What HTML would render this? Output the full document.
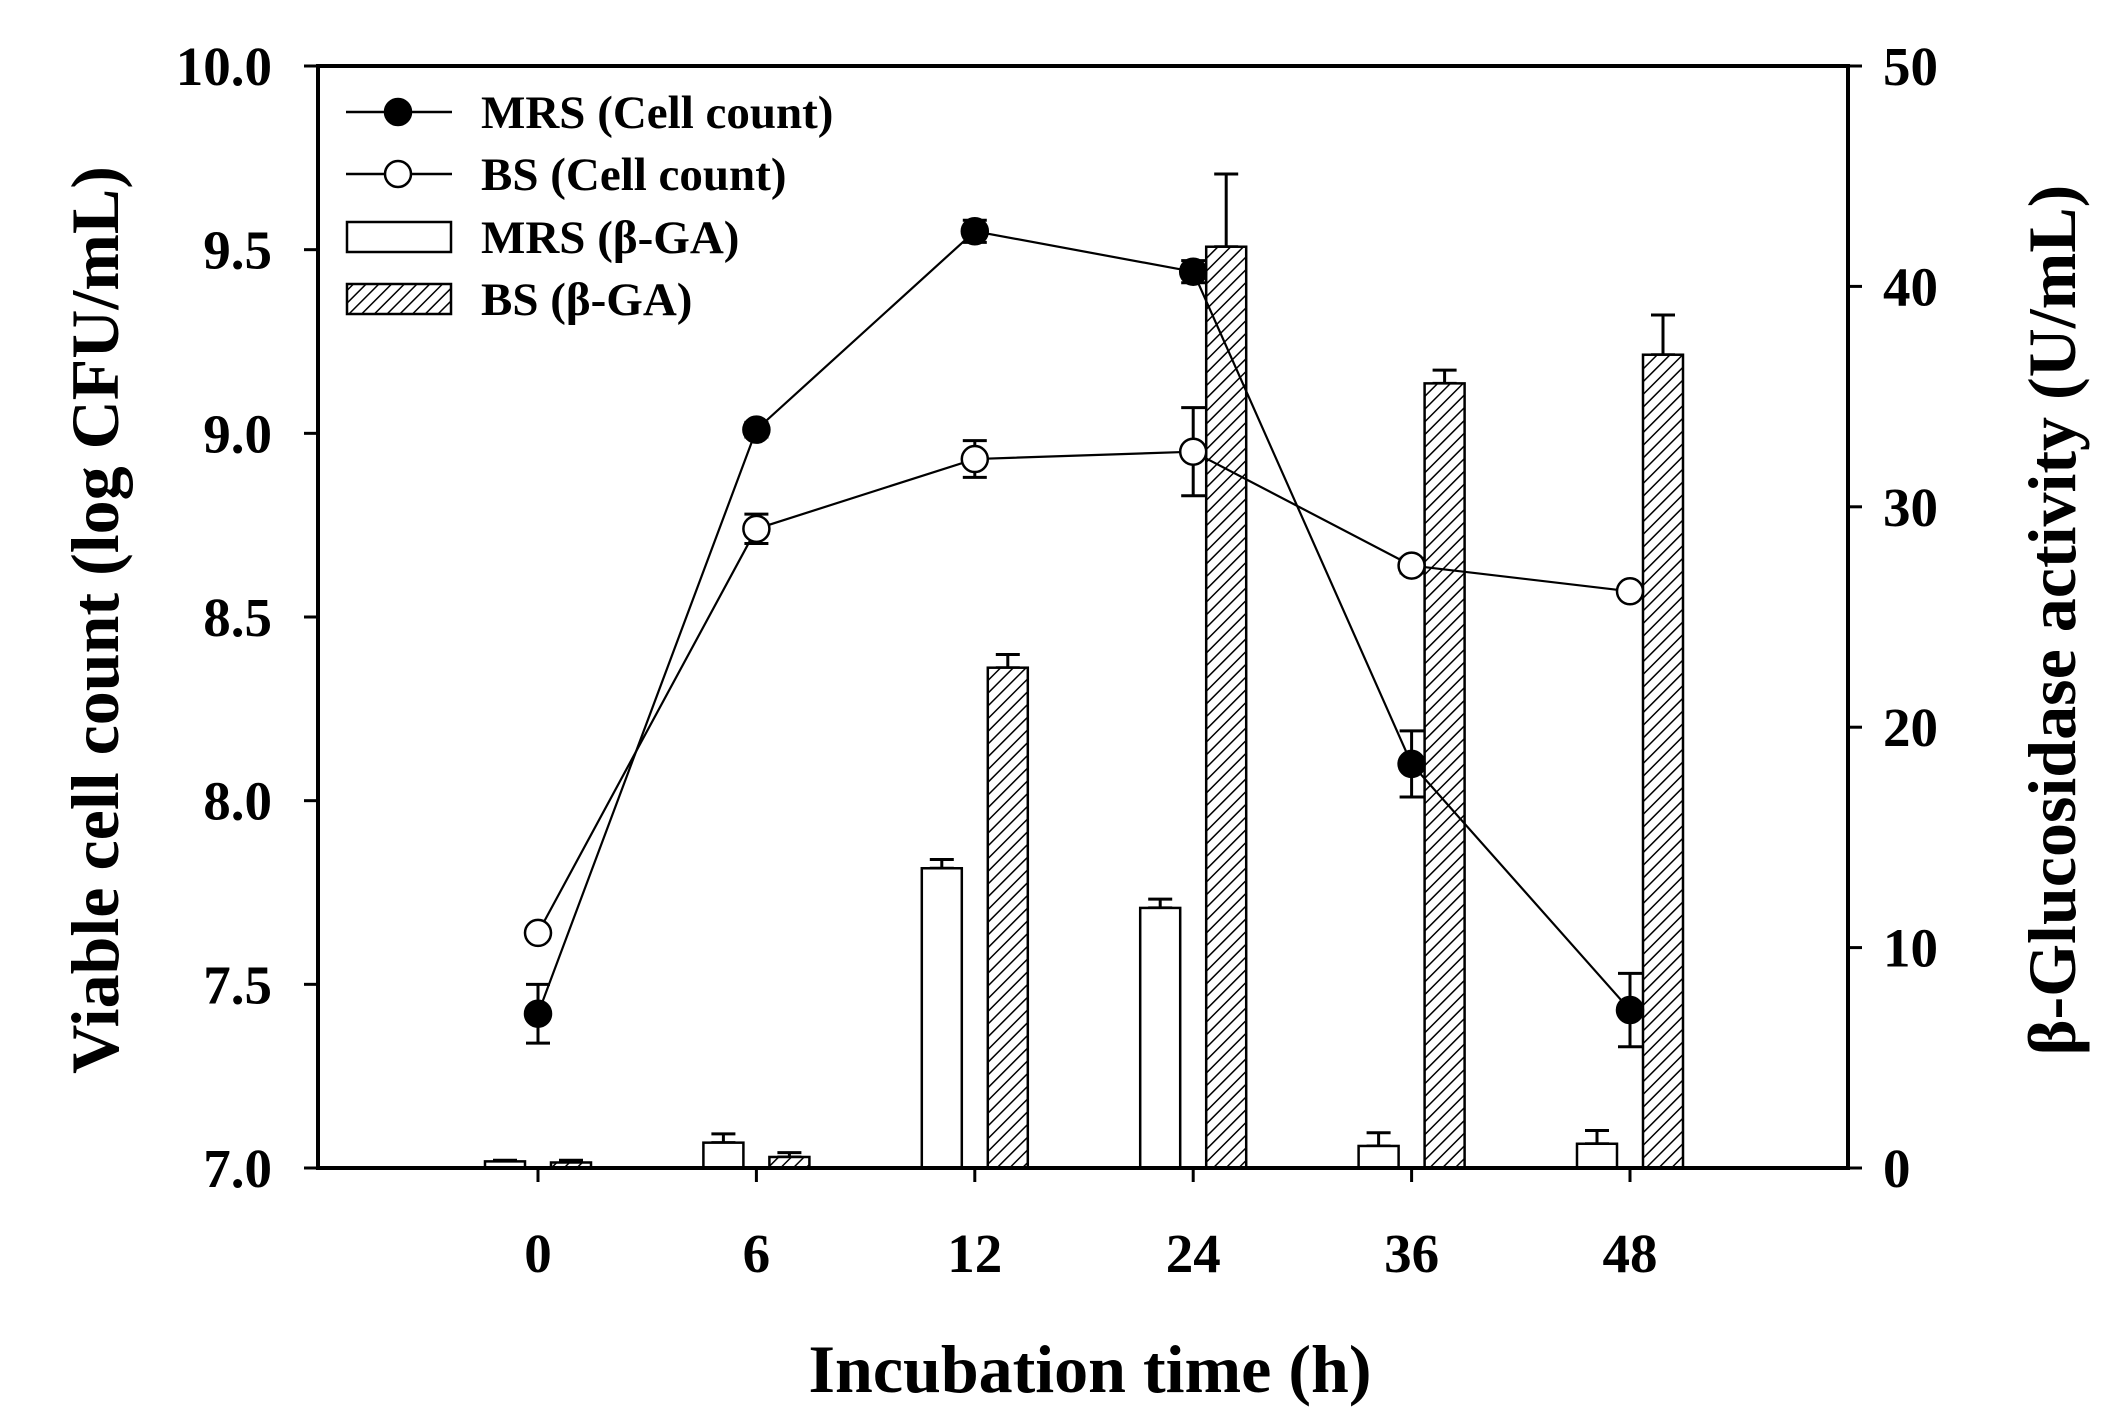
<!DOCTYPE html>
<html><head><meta charset="utf-8"><style>
html,body{margin:0;padding:0;background:#fff;}
svg{display:block;font-family:"Liberation Serif",serif;font-weight:bold;}
</style></head><body>
<svg id="chart" width="2105" height="1415" viewBox="0 0 2105 1415">
<defs>
<pattern id="hatch" patternUnits="userSpaceOnUse" width="9" height="9" patternTransform="rotate(45)">
<rect width="9" height="9" fill="#fff"/><line x1="0" y1="0" x2="0" y2="9" stroke="#000" stroke-width="3"/>
</pattern>
</defs>
<g id="plot"></g>
</svg>
<script>
const categories = ["0","6","12","24","36","48"];
const mrsCount = [7.42, 9.01, 9.55, 9.44, 8.10, 7.43];
const mrsCountErr = [0.08, 0.02, 0.03, 0.03, 0.09, 0.10];
const bsCount = [7.64, 8.74, 8.93, 8.95, 8.64, 8.57];
const bsCountErr = [0.01, 0.04, 0.05, 0.12, 0.02, 0.01];
const mrsGA = [0.3, 1.15, 13.6, 11.8, 1.0, 1.1];
const mrsGAErr = [0.05, 0.4, 0.4, 0.4, 0.6, 0.6];
const bsGA = [0.25, 0.5, 22.7, 41.8, 35.6, 36.9];
const bsGAErr = [0.1, 0.2, 0.6, 3.3, 0.6, 1.8];
const leftTicks = ["7.0","7.5","8.0","8.5","9.0","9.5","10.0"];
const rightTicks = ["0","10","20","30","40","50"];

const NS="http://www.w3.org/2000/svg";
const g=document.getElementById('plot');
const X0=318,X1=1848,Y0=1168,YT=66;
const xPos=i=>538+218.4*i;
const yL=v=>Y0-(v-7)/3*(Y0-YT);
const yR=v=>Y0-v/50*(Y0-YT);
function el(tag,attrs,parent){const e=document.createElementNS(NS,tag);for(const k in attrs)e.setAttribute(k,attrs[k]);(parent||g).appendChild(e);return e;}
function txt(s,attrs){const t=el('text',attrs);t.textContent=s;return t;}
function errbar(x,y1,y2,name){const e=el('path',{d:`M${x},${y1}V${y2}M${x-12},${y1}H${x+12}M${x-12},${y2}H${x+12}`,stroke:'#000','stroke-width':3,fill:'none'});

}

categories.forEach((c,i)=>{
 const xc=xPos(i);
 errbar(xc-33,yR(mrsGA[i]+mrsGAErr[i]),yR(mrsGA[i]),'mrs-ga-error-'+c);
 let b=el('rect',{x:xc-53,y:yR(mrsGA[i]),width:40,height:Y0-yR(mrsGA[i]),fill:'#fff',stroke:'#000','stroke-width':2.5});
 
 
 errbar(xc+33,yR(bsGA[i]+bsGAErr[i]),yR(bsGA[i]),'bs-ga-error-'+c);
 b=el('rect',{x:xc+13,y:yR(bsGA[i]),width:40,height:Y0-yR(bsGA[i]),fill:'url(#hatch)',stroke:'#000','stroke-width':2.5});
 
 
});
function series(vals,errs,fill,name){
 const l=el('polyline',{points:vals.map((v,i)=>xPos(i)+','+yL(v)).join(' '),fill:'none',stroke:'#000','stroke-width':2.2});
 
 
 vals.forEach((v,i)=>{
  errbar(xPos(i),yL(v+errs[i]),yL(v-errs[i]),name+'-error-'+categories[i]);
  const p=el('circle',{cx:xPos(i),cy:yL(v),r:13,fill:fill,stroke:'#000','stroke-width':2.5});
  
  
 });
}
series(bsCount,bsCountErr,'#fff','bs-count');
series(mrsCount,mrsCountErr,'#000','mrs-count');

const fr=el('path',{d:`M${X0},${YT}H${X1}V${Y0}H${X0}Z`,fill:'none',stroke:'#000','stroke-width':4});


leftTicks.forEach((t,i)=>{
 const y=yL(7+i*0.5);
 el('line',{x1:X0-14,x2:X0,y1:y,y2:y,stroke:'#000','stroke-width':3});
 const e=txt(t,{x:272,y:y+19,'text-anchor':'end','font-size':55});
 
 
});
rightTicks.forEach((t,i)=>{
 const y=yR(i*10);
 el('line',{x1:X1,x2:X1+14,y1:y,y2:y,stroke:'#000','stroke-width':3});
 const e=txt(t,{x:1883,y:y+19,'font-size':55});
 
 
});
categories.forEach((c,i)=>{
 const x=xPos(i);
 el('line',{x1:x,x2:x,y1:Y0,y2:Y0+14,stroke:'#000','stroke-width':3});
 const e=txt(c,{x:x,y:1272,'text-anchor':'middle','font-size':55});
 
 
});
let t=txt('Incubation time (h)',{x:1090,y:1392,'text-anchor':'middle','font-size':68});


t=txt('Viable cell count (log CFU/mL)',{x:0,y:0,'text-anchor':'middle','font-size':68,transform:'translate(118,620) rotate(-90)'});


t=txt('β-Glucosidase activity (U/mL)',{x:0,y:0,'text-anchor':'middle','font-size':68,transform:'translate(2075,620) rotate(-90)'});



const lg=el('g',{});


const legendLabels=["MRS (Cell count)","BS (Cell count)","MRS (β-GA)","BS (β-GA)"];
const ly=[112,174,237,299];
el('line',{x1:346,x2:452,y1:ly[0],y2:ly[0],stroke:'#000','stroke-width':2.5},lg);
el('circle',{cx:398,cy:ly[0],r:13,fill:'#000',stroke:'#000','stroke-width':2.5},lg);
el('line',{x1:346,x2:452,y1:ly[1],y2:ly[1],stroke:'#000','stroke-width':2.5},lg);
el('circle',{cx:398,cy:ly[1],r:13,fill:'#fff',stroke:'#000','stroke-width':2.5},lg);
el('rect',{x:347,y:ly[2]-15,width:104,height:30,fill:'#fff',stroke:'#000','stroke-width':2.5},lg);
el('rect',{x:347,y:ly[3]-15,width:104,height:30,fill:'url(#hatch)',stroke:'#000','stroke-width':2.5},lg);
legendLabels.forEach((s,i)=>{
 const e=el('text',{x:481,y:ly[i]+16,'font-size':47},lg);e.textContent=s;
 
 
});
</script>
</body></html>
